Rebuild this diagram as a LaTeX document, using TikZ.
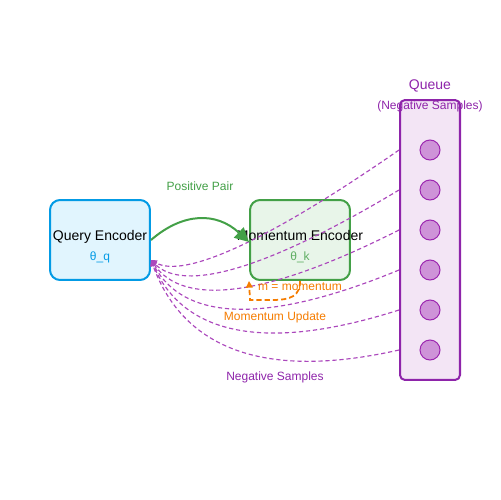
\documentclass[tikz,border=0pt]{standalone}
\usepackage{fontspec}
\setmainfont{Liberation Sans}
\usetikzlibrary{arrows.meta,calc}
\definecolor{qblue}{HTML}{039BE5}
\definecolor{qfill}{HTML}{E1F5FE}
\definecolor{mgreen}{HTML}{43A047}
\definecolor{mfill}{HTML}{E8F5E9}
\definecolor{qpurple}{HTML}{8E24AA}
\definecolor{qpfill}{HTML}{F3E5F5}
\definecolor{dotfill}{HTML}{CE93D8}
\definecolor{dotline}{HTML}{9C27B0}
\definecolor{negline}{HTML}{AB47BC}
\definecolor{orng}{HTML}{F57C00}
\begin{document}
\begin{tikzpicture}[x=0.02cm,y=-0.02cm,
  big/.style={font=\fontsize{7.97}{9}\selectfont, inner sep=0pt, anchor=base},
  small/.style={font=\fontsize{6.83}{8}\selectfont, inner sep=0pt, anchor=base},
  encbox/.style={line width=1.14pt, rounded corners=5.7pt, minimum width=2cm, minimum height=1.6cm, inner sep=0pt},
  queuebox/.style={draw=qpurple, fill=qpfill, line width=1.14pt, rounded corners=2.8pt, minimum width=1.2cm, minimum height=5.6cm, inner sep=0pt},
  sample/.style={circle, draw=dotline, fill=dotfill, line width=0.57pt, minimum size=0.4cm, inner sep=0pt},
  negconn/.style={draw=negline, line width=0.65pt, dash pattern=on 2.4pt off 1.6pt, -{Triangle[length=3.4pt,width=3.2pt]}},
  posconn/.style={draw=mgreen, line width=1.14pt, -{Triangle[length=8pt,width=8pt]}},
  momconn/.style={draw=orng, line width=1pt, dash pattern=on 3pt off 1.7pt, -{Triangle[length=3.8pt,width=3.8pt]}}]
\useasboundingbox (0,0) rectangle (500,500);
% boxes
\node[encbox, draw=qblue, fill=qfill] (qenc) at (100,240) {};
\node[encbox, draw=mgreen, fill=mfill] (menc) at (300,240) {};
\node[queuebox] (queue) at (430,240) {};
\foreach \i in {0,...,5}{
  \node[sample] (s\i) at (430,{150+40*\i}) {};
}
% texts
\node[big] (qtitle) at (100,240) {Query Encoder};
\node[small, text=qblue] (qtheta) at (100,260) {θ\_q};
\node[big] (mtitle) at (300,240) {Momentum Encoder};
\node[small, text=mgreen!85] (mtheta) at (300,260) {θ\_k};
\node[big, text=qpurple] (qlabel) at (430,90) {Queue};
\node[small, text=qpurple] (qsub) at (430,110) {(Negative Samples)};
\node[small, text=mgreen] (pplabel) at (200,190) {Positive Pair};
\node[small, text=orng] (mulabel) at (275,320) {Momentum Update};
\node[small, text=qpurple] (nslabel) at (275,380) {Negative Samples};
% negative sample connectors
\coordinate (qin) at ($(qenc.east)+(0,20)$);
\foreach \i in {0,...,5}{
  \pgfmathsetmacro\cc{288+21.4*\i}
  \coordinate (p\i) at (s\i -| queue.west);
  \coordinate (c\i) at (200,\cc);
  \draw[negconn] (p\i) .. controls ($(p\i)!2/3!(c\i)$) and ($(qin)!2/3!(c\i)$) .. (qin);
}
% positive pair
\coordinate (pend) at ($(menc.west)+(0,2)$);
\draw[posconn] (qenc.east) .. controls (183.3,212) and (216.7,212) .. (pend);
% momentum update
\draw[momconn] (menc.south) .. controls (300,296) and (291,300) .. (272,300) -- (250,300) -- (menc.south west);
\node[small, text=orng] (mlabel) at (300,290) {m = momentum};
\end{tikzpicture}
\end{document}
